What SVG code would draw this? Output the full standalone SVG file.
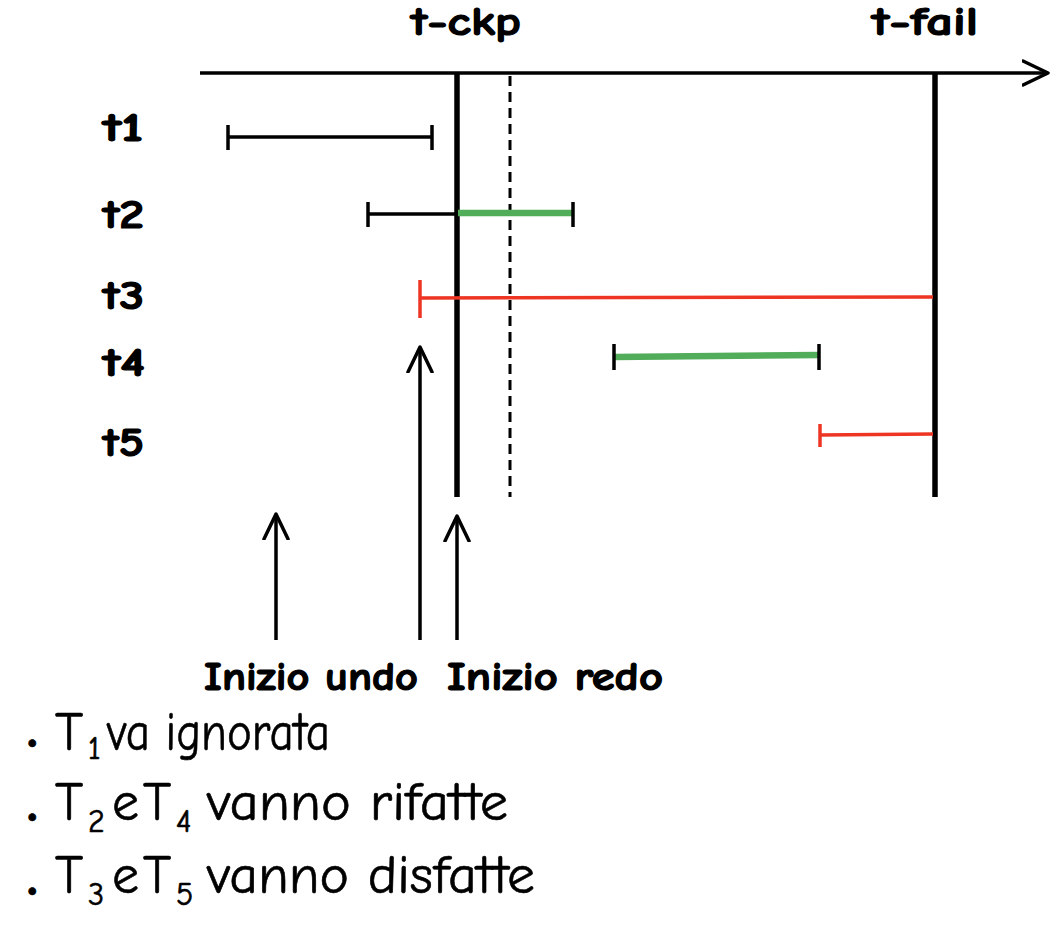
<svg xmlns="http://www.w3.org/2000/svg" width="1056" height="940" viewBox="0 0 1056 940">
<style>
.bold{font-family:"Comic Sans MS","Comic Neue","DejaVu Sans",sans-serif;font-weight:bold;fill:#000;stroke:#000;stroke-width:1.2}
.reg{font-family:"Comic Sans MS","Comic Neue","DejaVu Sans",sans-serif;fill:#000;stroke:#000;stroke-width:0.6}
.blk{stroke:#000;stroke-width:3.5;fill:none;stroke-linecap:butt}
.thick{stroke:#000;stroke-width:5.5;fill:none}
.red{stroke:#EE3524;stroke-width:3.5;fill:none}
.green{stroke:#52AD5A;stroke-width:6.5;fill:none}
.cap{stroke:#000;stroke-width:3.5}
.rcap{stroke:#EE3524;stroke-width:3.5}
</style>
<defs>
<marker id="chev" markerUnits="userSpaceOnUse" markerWidth="40" markerHeight="40" refX="26" refY="13" orient="auto" viewBox="0 0 40 26">
<polyline points="1,1 26,13 1,25" fill="none" stroke="#000" stroke-width="3.5" stroke-linejoin="round" stroke-linecap="round"/>
</marker>
</defs>
<rect width="1056" height="940" fill="#fff"/>
<g id="connectors">
<line class="blk" x1="200" y1="73" x2="1048" y2="73" marker-end="url(#chev)"/>
<line class="thick" x1="457" y1="73" x2="457" y2="497"/>
<line stroke="#000" stroke-width="3" stroke-dasharray="10,6" x1="510" y1="76" x2="510" y2="497"/>
<line class="thick" x1="935" y1="73" x2="935" y2="497"/>
<line class="blk" x1="276" y1="640" x2="276" y2="514" marker-end="url(#chev)"/>
<line class="blk" x1="420" y1="640" x2="420" y2="347" marker-end="url(#chev)"/>
<line class="blk" x1="457" y1="640" x2="457" y2="516" marker-end="url(#chev)"/>
</g>
<g id="t1">
<text class="bold" x="103" y="141" font-size="40" textLength="40" lengthAdjust="spacingAndGlyphs">t1</text>
<line class="blk" x1="228" y1="137" x2="432" y2="137"/>
<line class="cap" x1="228" y1="125" x2="228" y2="150"/>
<line class="cap" x1="432" y1="125" x2="432" y2="150"/>
</g>
<g id="t2">
<text class="bold" x="103" y="228" font-size="40" textLength="41" lengthAdjust="spacingAndGlyphs">t2</text>
<line class="blk" x1="368" y1="214" x2="457" y2="214"/>
<line class="green" x1="458" y1="213" x2="572" y2="213"/>
<line class="cap" x1="368" y1="202" x2="368" y2="227"/>
<line class="cap" x1="573" y1="202" x2="573" y2="227"/>
</g>
<g id="t3">
<text class="bold" x="103" y="309" font-size="40" textLength="41" lengthAdjust="spacingAndGlyphs">t3</text>
<line class="red" x1="420" y1="298" x2="933" y2="297"/>
<line class="rcap" x1="420" y1="280" x2="420" y2="318"/>
</g>
<g id="t4">
<text class="bold" x="103" y="376" font-size="40" textLength="42" lengthAdjust="spacingAndGlyphs">t4</text>
<line class="green" x1="615" y1="357" x2="819" y2="355"/>
<line class="cap" x1="614" y1="344" x2="614" y2="370"/>
<line class="cap" x1="819" y1="344" x2="819" y2="370"/>
</g>
<g id="t5">
<text class="bold" x="103" y="456" font-size="40" textLength="41" lengthAdjust="spacingAndGlyphs">t5</text>
<line class="red" x1="820" y1="435" x2="933" y2="434"/>
<line class="rcap" x1="820" y1="424" x2="820" y2="447"/>
</g>
<g id="labels">
<text class="bold" x="411" y="35" font-size="40" textLength="110" lengthAdjust="spacingAndGlyphs">t-ckp</text>
<text class="bold" x="872" y="35" font-size="40" textLength="106" lengthAdjust="spacingAndGlyphs">t-fail</text>
<text class="bold" x="204" y="690" font-size="40" textLength="214" lengthAdjust="spacingAndGlyphs">Inizio undo</text>
<text class="bold" x="447" y="690" font-size="40" textLength="216" lengthAdjust="spacingAndGlyphs">Inizio redo</text>
</g>
<g id="bullets">
<text class="reg" x="26" y="753" font-size="40">•</text>
<text class="reg" x="55" y="750" font-size="54">T</text>
<text class="reg" x="88" y="759" font-size="32">1</text>
<text class="reg" x="107" y="750" font-size="54" textLength="223" lengthAdjust="spacingAndGlyphs">va ignorata</text>
<text class="reg" x="26" y="827" font-size="40">•</text>
<text class="reg" x="55" y="820" font-size="54">T</text>
<text class="reg" x="88" y="832" font-size="32">2</text>
<text class="reg" x="112" y="820" font-size="54">e</text>
<text class="reg" x="143" y="820" font-size="54">T</text>
<text class="reg" x="176" y="832" font-size="32">4</text>
<text class="reg" x="207" y="820" font-size="54" textLength="301" lengthAdjust="spacingAndGlyphs">vanno rifatte</text>
<text class="reg" x="26" y="901" font-size="40">•</text>
<text class="reg" x="55" y="893" font-size="54">T</text>
<text class="reg" x="88" y="905" font-size="32">3</text>
<text class="reg" x="112" y="893" font-size="54">e</text>
<text class="reg" x="143" y="893" font-size="54">T</text>
<text class="reg" x="176" y="905" font-size="32">5</text>
<text class="reg" x="207" y="893" font-size="54" textLength="328" lengthAdjust="spacingAndGlyphs">vanno disfatte</text>
</g>
</svg>
